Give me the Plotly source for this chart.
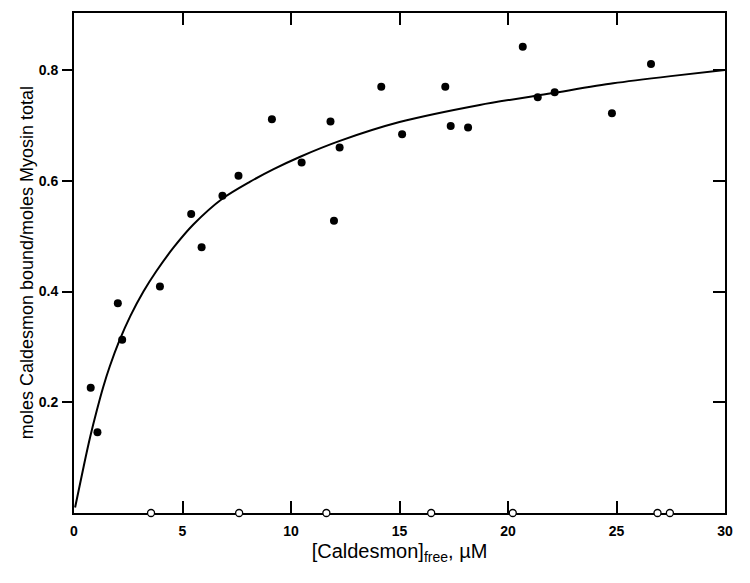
import plotly.graph_objects as go

# filled circles: bound caldesmon vs free caldesmon
bound_x = [0.77, 1.08, 2.02, 2.22, 3.96, 5.40, 5.88, 6.84, 7.58, 9.12, 10.49, 11.82,
           11.98, 12.24, 14.16, 15.12, 17.11, 17.36, 18.16, 20.68, 21.37, 22.15, 24.79, 26.59]
bound_y = [0.226, 0.146, 0.379, 0.313, 0.409, 0.540, 0.480, 0.573, 0.609, 0.711, 0.633, 0.707,
           0.528, 0.660, 0.770, 0.684, 0.770, 0.699, 0.696, 0.842, 0.751, 0.760, 0.722, 0.811]

# open circles sitting on the x axis
open_x = [3.55, 7.61, 11.63, 16.46, 20.22, 26.89, 27.46]
open_y = [0, 0, 0, 0, 0, 0, 0]

# fitted curve
fit_x = [0.05, 0.45, 0.75, 1.05, 1.35, 1.65, 2.1, 2.6, 3.2, 3.8, 4.6, 5.5, 6.85, 8.1,
         9.2, 10.4, 12.25, 15.0, 18.7, 22.0, 24.85, 27.5, 30.0]
fit_y = [0.01, 0.085, 0.138, 0.185, 0.228, 0.265, 0.312, 0.356, 0.400, 0.437, 0.480, 0.521,
         0.568, 0.598, 0.621, 0.643, 0.672, 0.706, 0.737, 0.758, 0.776, 0.789, 0.800]

x_ticks = [0, 5, 10, 15, 20, 25, 30]
y_ticks = [0.2, 0.4, 0.6, 0.8]

fnt = "Liberation Sans, Arial, sans-serif"

fig = go.Figure()
fig.add_trace(go.Scatter(x=fit_x, y=fit_y, mode="lines",
                         line=dict(color="black", width=2, shape="spline", smoothing=0.8)))
fig.add_trace(go.Scatter(x=bound_x, y=bound_y, mode="markers",
                         marker=dict(color="black", size=8)))
fig.add_trace(go.Scatter(x=open_x, y=open_y, mode="markers", cliponaxis=False,
                         marker=dict(color="white", size=7, line=dict(color="black", width=1.3))))
# dummy trace so the mirrored top/right axes get drawn
fig.add_trace(go.Scatter(x=[None], y=[None], xaxis="x2", yaxis="y2"))

fig.update_layout(
    width=750, height=583,
    margin=dict(l=66, r=33, t=5, b=78),
    paper_bgcolor="white", plot_bgcolor="white",
    showlegend=False,
    font=dict(family=fnt, color="black"),
    xaxis=dict(range=[0, 30], tickvals=x_ticks, ticks="inside", ticklen=12, tickwidth=1.5,
               tickcolor="black", showline=True, linecolor="black", linewidth=2,
               showgrid=False, zeroline=False, layer="below traces",
               tickfont=dict(size=14, weight="bold"), ticklabelstandoff=4,
               title=dict(text="[Caldesmon]<sub>free</sub>, µM", font=dict(size=20), standoff=6)),
    yaxis=dict(range=[0, 0.903], tickvals=y_ticks, ticktext=["0.2", "0.4", "0.6", "0.8"],
               ticks="outside", ticklen=10, tickwidth=1.5, tickcolor="black",
               showline=True, linecolor="black", linewidth=2, showgrid=False, zeroline=False,
               tickfont=dict(size=14, weight="bold"), ticklabelstandoff=1),
    xaxis2=dict(range=[0, 30], overlaying="x", side="top", tickvals=[5, 10, 15, 20, 25],
                ticks="inside", ticklen=12, tickwidth=1.5, tickcolor="black",
                showticklabels=False, showline=True, linecolor="black", linewidth=2,
                showgrid=False, zeroline=False),
    yaxis2=dict(range=[0, 0.903], overlaying="y", side="right", tickvals=y_ticks,
                ticks="inside", ticklen=12, tickwidth=1.5, tickcolor="black",
                showticklabels=False, showline=True, linecolor="black", linewidth=2,
                showgrid=False, zeroline=False),
    annotations=[dict(text="moles Caldesmon bound/moles Myosin total", textangle=-90,
                      xref="paper", yref="paper", x=-0.072, y=0.5,
                      xanchor="center", yanchor="middle", showarrow=False,
                      font=dict(size=18))],
)

fig.write_html("out.html")
